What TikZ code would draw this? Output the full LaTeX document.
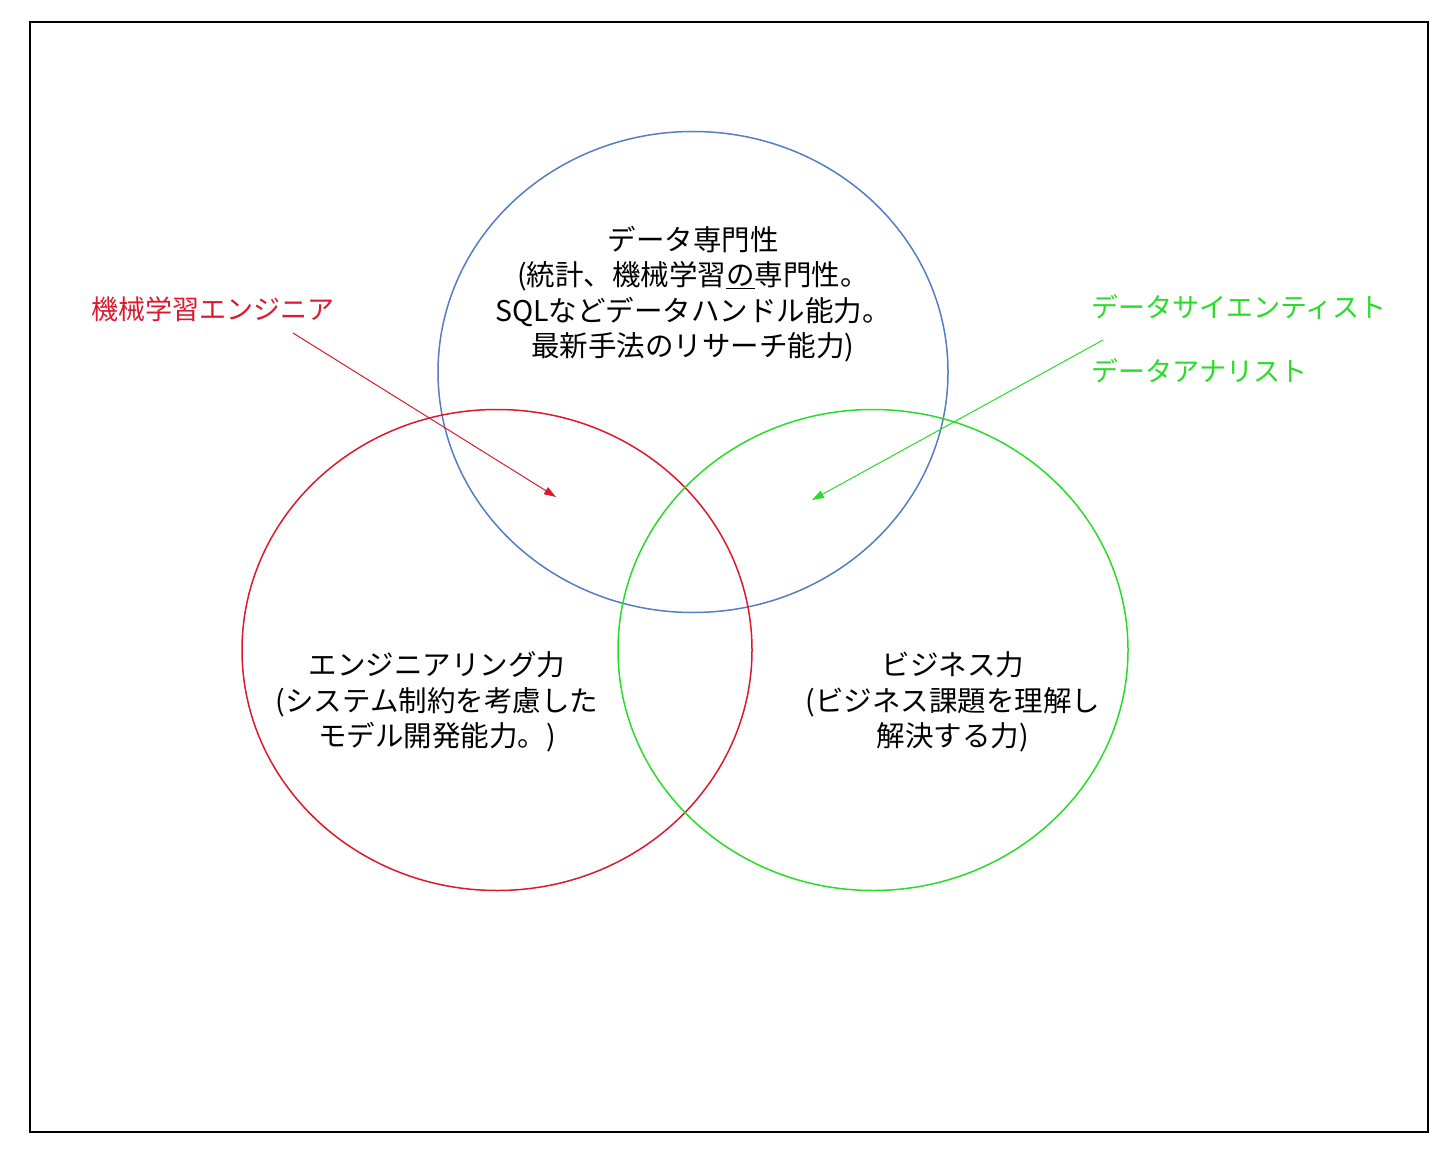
\documentclass[tikz,border=0pt]{standalone}
\usepackage{fontspec}
\setmainfont{Noto Sans CJK JP}
\usepackage{tikz}
\usetikzlibrary{arrows.meta,positioning,shapes.geometric}
\definecolor{dsblue}{RGB}{85,125,195}
\definecolor{engred}{RGB}{220,25,45}
\definecolor{bizgreen}{RGB}{40,220,40}
\tikzset{
  skill/.style={ellipse,draw,line width=1.5pt,minimum width=510pt,minimum height=481pt,inner sep=0pt},
  body/.style={align=center,font=\fontsize{28.5}{35.5}\selectfont},
  role/.style={anchor=west,font=\fontsize{27}{35}\selectfont},
  pointer/.style={line width=1pt,-{Triangle[length=12pt,width=8pt]}}
}
\begin{document}
\begin{tikzpicture}[x=1pt,y=-1pt]
  \useasboundingbox (0,0) rectangle (1440,1150);
  \draw[line width=2pt] (30,22) rectangle (1428,1132);
  % the three skill sets
  \node[skill,draw=dsblue]   (data) at (693,372) {};
  \node[skill,draw=engred]   (eng)  at (497,650) {};
  \node[skill,draw=bizgreen] (biz)  at (873,650) {};
  \node[body] (datatxt) at (693,294) {データ専門性\\(統計、機械学習\underline{の}専門性。\\SQLなどデータハンドル能力。\\最新手法のリサーチ能力)};
  \node[body] (engtxt) at (437,702) {エンジニアリング力\\(システム制約を考慮した\\モデル開発能力。)};
  \node[body] (biztxt) at (953,702) {ビジネス力\\(ビジネス課題を理解し\\解決する力)};
  % roles
  \node[role,text=engred]   (mle) at (88,309) {機械学習エンジニア};
  \node[role,text=bizgreen] (ds)  at (1088,307) {データサイエンティスト};
  \node[role,text=bizgreen] (da)  at (1088,371) {データアナリスト};
  \coordinate (mlefrom) at (293,333);
  \coordinate (mleto)   at (556,497);
  \coordinate (dsfrom)  at (1103,340);
  \coordinate (dsto)    at (812,500);
  \draw[pointer,engred]   (mlefrom) -- (mleto);
  \draw[pointer,bizgreen] (dsfrom) -- (dsto);
\end{tikzpicture}
\end{document}
